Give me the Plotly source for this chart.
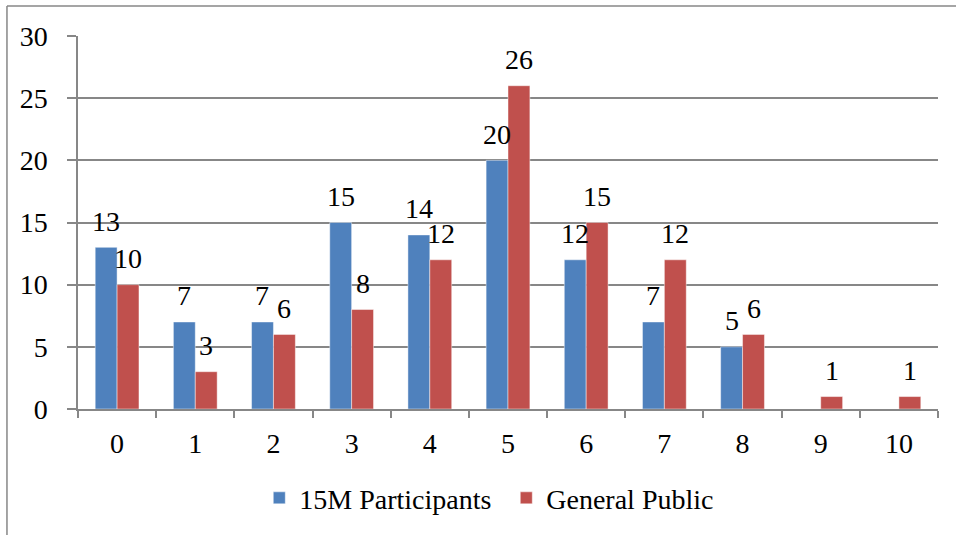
import plotly.graph_objects as go

categories = ["0", "1", "2", "3", "4", "5", "6", "7", "8", "9", "10"]
participants_15m = [13, 7, 7, 15, 14, 20, 12, 7, 5, None, None]
general_public = [10, 3, 6, 8, 12, 26, 15, 12, 6, 1, 1]

FONT = "Liberation Serif"
FSIZE = 28
GRID = "#878787"

fig = go.Figure()

fig.add_trace(go.Bar(
    x=categories, y=participants_15m, name="15M Participants",
    marker=dict(color="#4F81BD", line=dict(color="rgba(255,255,255,0.45)", width=1)),
))
fig.add_trace(go.Bar(
    x=categories, y=general_public, name="General Public",
    marker=dict(color="#C0504D", line=dict(color="rgba(255,255,255,0.45)", width=1)),
))

# data labels above each bar (Excel style, a bit higher than plotly's own)
annotations = []
for series, shift in ((participants_15m, -11), (general_public, 11)):
    for cat, val in zip(categories, series):
        if val is None:
            continue
        annotations.append(dict(
            x=cat, y=val, text=str(val), showarrow=False,
            xref="x", yref="y", xshift=shift, yshift=26,
            yanchor="middle", font=dict(family=FONT, size=FSIZE, color="black"),
        ))

fig.update_layout(
    width=956, height=535,
    margin=dict(l=78, r=18, t=36, b=126),
    paper_bgcolor="white", plot_bgcolor="white",
    barmode="group", bargap=0.44, bargroupgap=0,
    font=dict(family=FONT, size=FSIZE, color="black"),
    showlegend=True,
    legend=dict(
        orientation="h", x=0.498, xanchor="center", y=-0.239, yanchor="middle",
        font=dict(family=FONT, size=FSIZE), itemwidth=30,
        entrywidth=202, entrywidthmode="pixels",
    ),
    annotations=annotations,
    shapes=[
        # outer chart frame (top and left edges visible)
        dict(type="line", xref="paper", yref="paper", x0=-0.0826, x1=1.2, y0=1.0804, y1=1.0804,
             line=dict(color=GRID, width=1.5)),
        dict(type="line", xref="paper", yref="paper", x0=-0.0826, x1=-0.0826, y0=1.0804, y1=-0.5,
             line=dict(color=GRID, width=1.5)),
    ],
)

fig.update_xaxes(
    type="category", showgrid=False,
    showline=True, linecolor=GRID, linewidth=1.5,
    ticks="outside", tickson="boundaries", ticklen=7, tickcolor=GRID, tickwidth=1.5,
    tickfont=dict(family=FONT, size=FSIZE), ticklabelstandoff=9,
)
fig.update_yaxes(
    range=[0, 30], dtick=5, showgrid=True, gridcolor=GRID, gridwidth=1.5,
    showline=True, linecolor=GRID, linewidth=1.5,
    ticks="outside", ticklen=9, tickcolor=GRID, tickwidth=1.5,
    tickfont=dict(family=FONT, size=FSIZE), ticklabelstandoff=14,
    zeroline=False,
)

fig.write_html("out.html", config={"displayModeBar": False},
               post_script="document.body.style.margin='0';")
